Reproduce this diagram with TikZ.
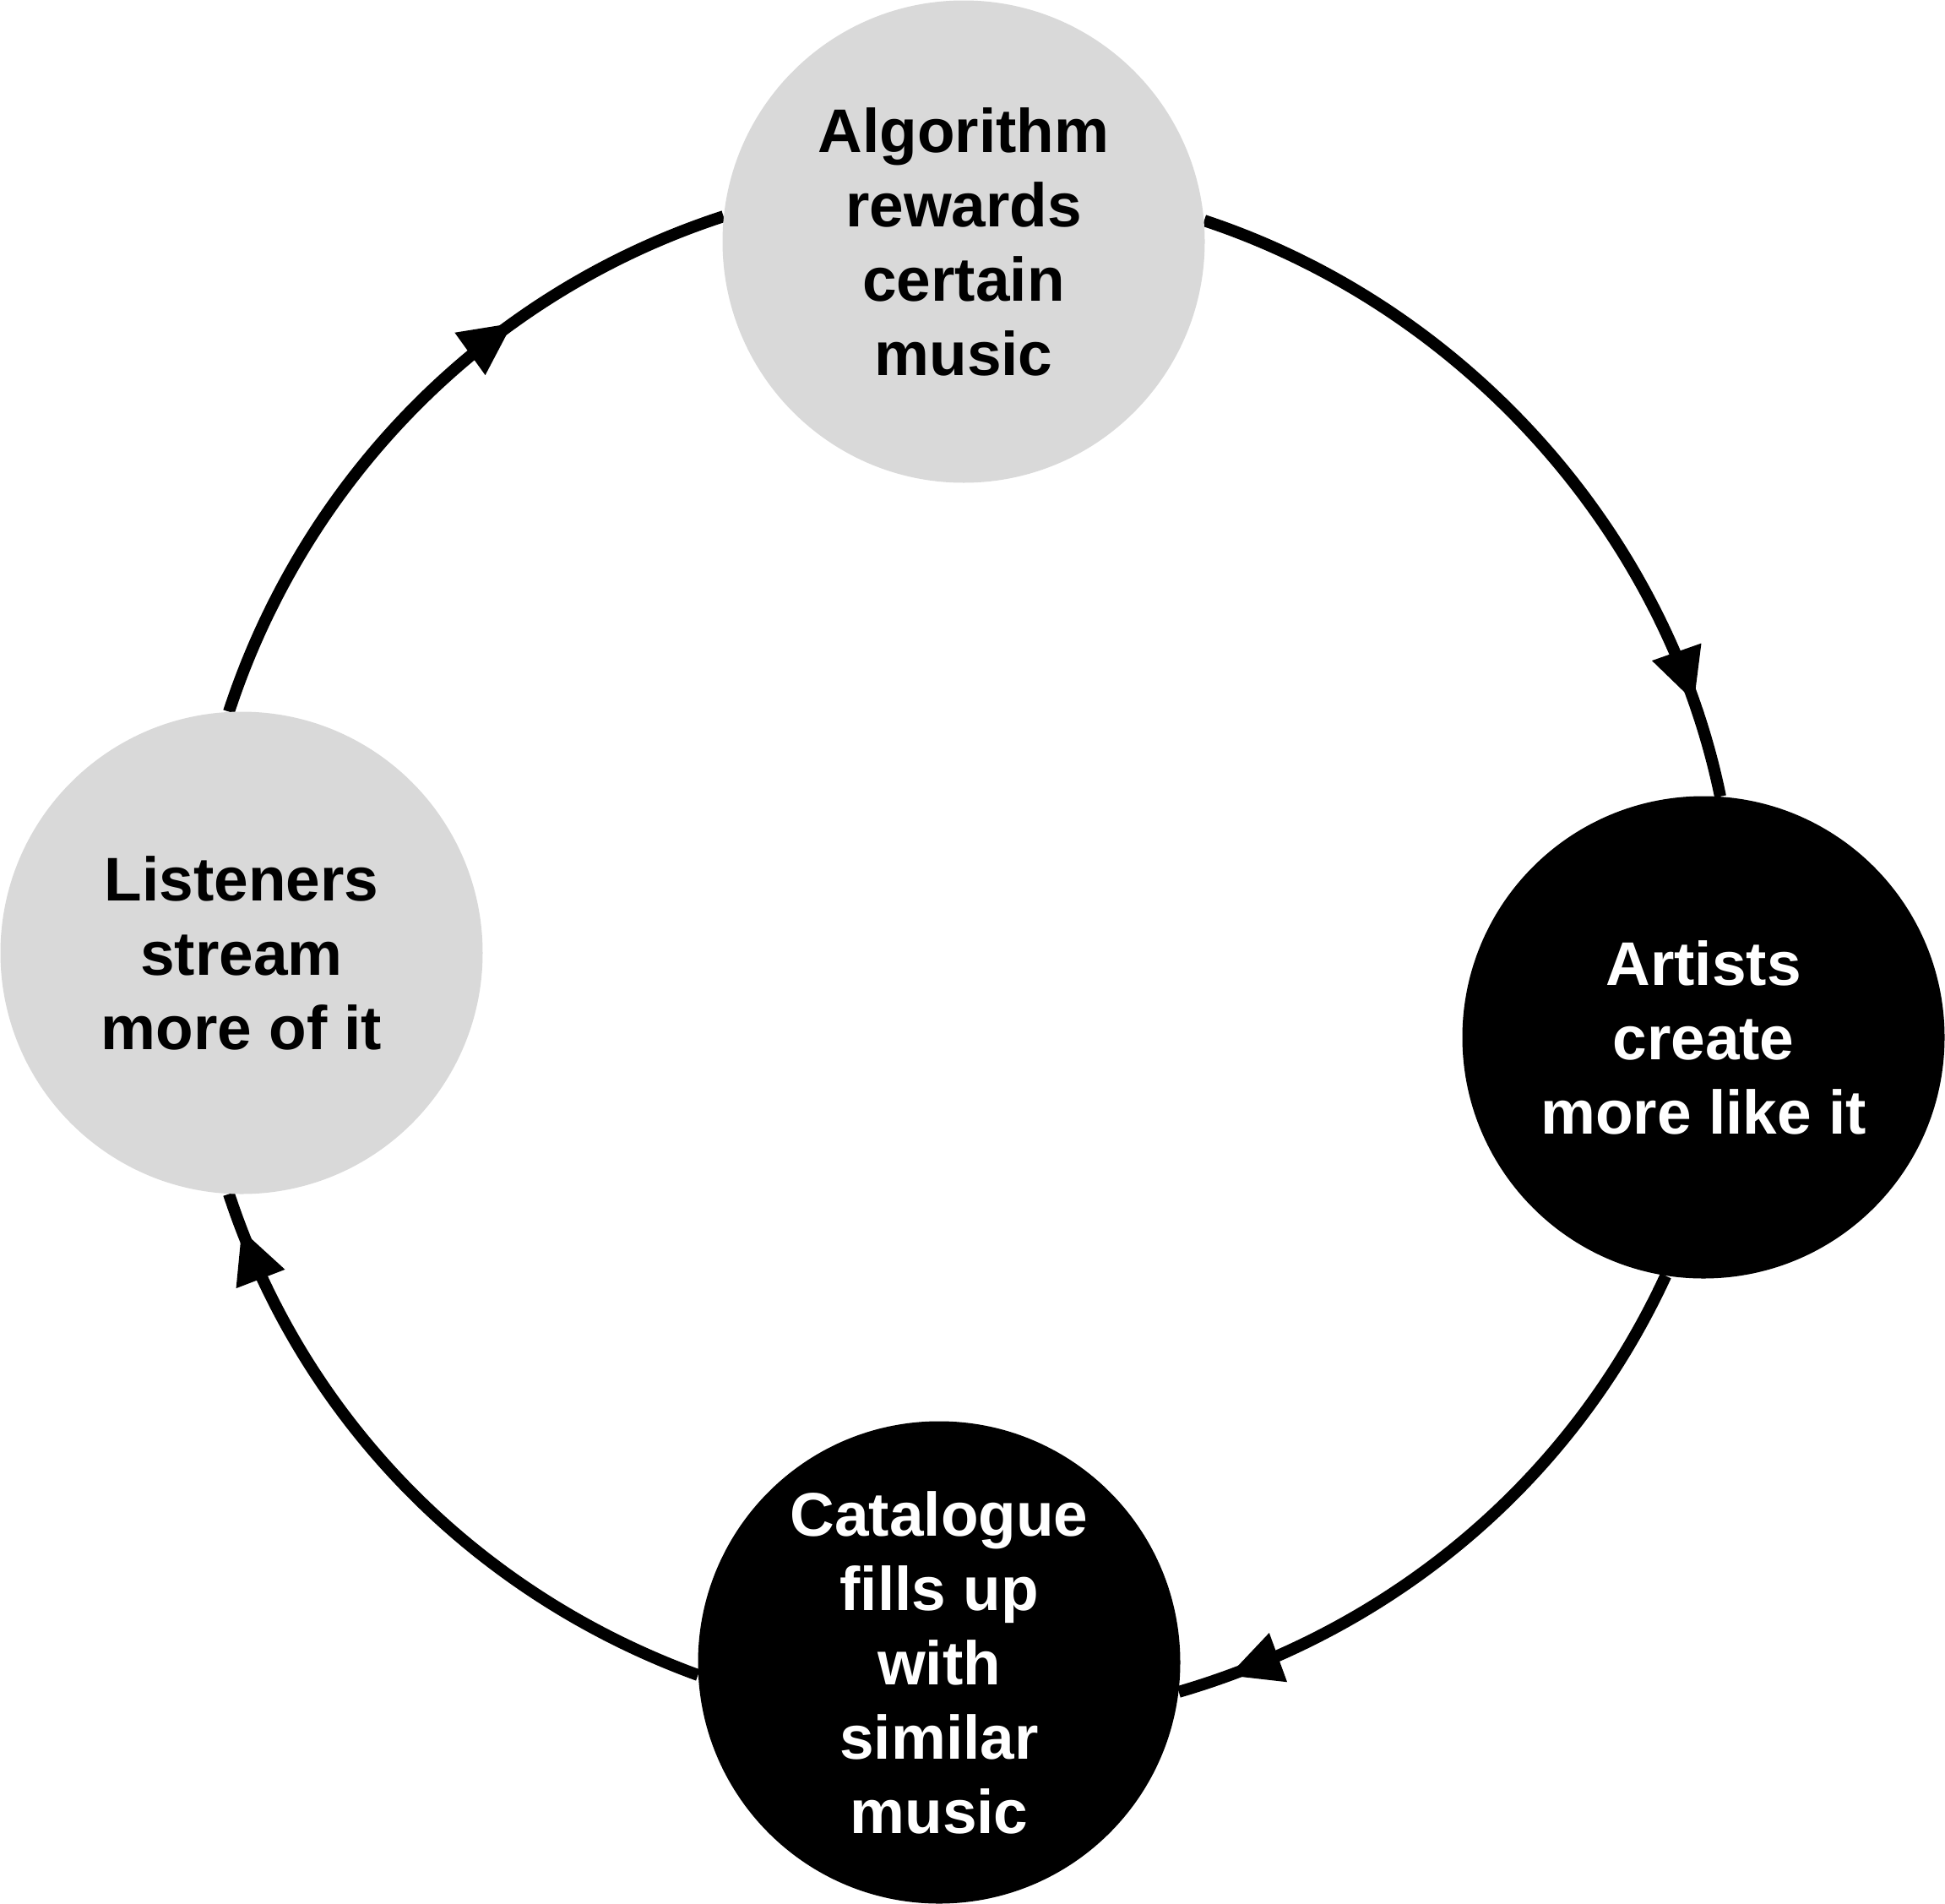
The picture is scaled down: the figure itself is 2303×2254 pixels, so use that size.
\documentclass[tikz,border=0pt]{standalone}
\usepackage{fontspec}
\setmainfont{Liberation Sans}
\usetikzlibrary{arrows.meta,decorations.markings,backgrounds}

\definecolor{stagegray}{RGB}{217,217,217}

\tikzset{
  stage/.style={circle,inner sep=0pt,minimum size=285.5pt,align=center,
    font=\fontsize{36.5pt}{44pt}\selectfont\bfseries},
  lightstage/.style={stage,fill=stagegray,text=black},
  darkstage/.style={stage,fill=black,text=white},
  loopline/.style={line width=7pt,looseness=0.9},
  flowmark/.style={postaction={decorate},decoration={markings,
    mark=at position #1 with {\arrow{Triangle[length=31pt,width=31pt,line width=0pt]}}}}
}

\begin{document}
\begin{tikzpicture}[x=0.5pt,y=0.5pt]
\useasboundingbox (0,0) rectangle (2303,-2254);

\node [lightstage] (algo) at (1141,-286) {Algorithm\\rewards\\certain\\music};
\node [darkstage] (artists) at (2017,-1228) {Artists\\create\\more like it};
\node [darkstage] (catalogue) at (1112,-1968) {Catalogue\\fills up\\with\\similar\\music};
\node [lightstage] (listeners) at (286,-1128) {Listeners\\stream\\more of it};

% the loop, behind the circles
\begin{scope}[on background layer]
\draw [loopline,flowmark=0.878] (algo.5.7) to[out=-18.3,in=101.6] (artists.86.4);
\draw [loopline,flowmark=0.92] (artists.-99.5) to[out=-114.8,in=16.3] (catalogue.-7.5);
\draw [loopline,flowmark=0.945] (catalogue.183.8) to[out=160.0,in=-71.8] (listeners.-93.2);
\draw [loopline,flowmark=0.673] (listeners.93.3) to[out=71.9,in=198.0] (algo.174.3);
\end{scope}
\end{tikzpicture}
\end{document}
